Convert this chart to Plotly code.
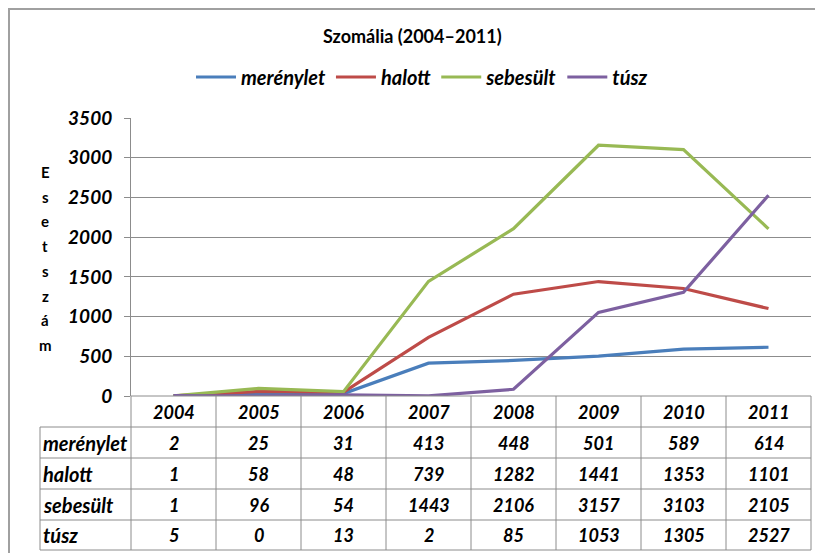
import plotly.graph_objects as go

years = ["2004", "2005", "2006", "2007", "2008", "2009", "2010", "2011"]
series_names = ["merénylet", "halott", "sebesült", "túsz"]
merenylet = [2, 25, 31, 413, 448, 501, 589, 614]
halott = [1, 58, 48, 739, 1282, 1441, 1353, 1101]
sebesult = [1, 96, 54, 1443, 2106, 3157, 3103, 2105]
tusz = [5, 0, 13, 2, 85, 1053, 1305, 2527]
y_ticks = [0, 500, 1000, 1500, 2000, 2500, 3000, 3500]
axis_title = "Esetszám"

series_values = [merenylet, halott, sebesult, tusz]
colors = ["#4A7EBB", "#BE4B48", "#98B954", "#7D60A0"]

OFF = 8  # page body margin
W, H = 823 - OFF, 553 - OFF
# reference (page) pixel positions
PL, PR, PT, PB = 131, 811, 118, 396
L, T = PL - OFF, PT - OFF
R = W - (PR - OFF)
B = H - (PB - OFF)
plot_w = PR - PL
plot_h = PB - PT

FONT = "Lato"
GRID = "#8C8C8C"

fig = go.Figure()
xs = list(range(len(years)))
for name, vals, c in zip(series_names, series_values, colors):
    fig.add_trace(go.Scatter(x=xs, y=vals, mode="lines", name="<b><i>%s</i></b>" % name,
                             line=dict(color=c, width=3.2)))

def py(px):
    return (PB - px) / plot_h

def pxx(px):
    return (px - PL) / plot_w

shapes = []
annotations = []
n = len(years)
row_tops = [396, 427, 458, 489, 520, 550]
line = dict(color=GRID, width=1)
shapes.append(dict(type="line", xref="paper", yref="paper", x0=0, x1=1,
                   y0=py(396), y1=py(396), line=line))
for yy in row_tops[1:]:
    shapes.append(dict(type="line", xref="paper", yref="paper", x0=pxx(40), x1=1,
                       y0=py(yy), y1=py(yy), line=line))
for i in range(n + 1):
    shapes.append(dict(type="line", xref="x domain", yref="paper", x0=i / n, x1=i / n,
                       y0=py(396), y1=py(550), line=line))
shapes.append(dict(type="line", xref="paper", yref="paper", x0=pxx(40), x1=pxx(40),
                   y0=py(427), y1=py(550), line=line))
shapes.append(dict(type="rect", xref="paper", yref="paper", x0=pxx(9), x1=pxx(840),
                   y0=py(570), y1=py(9), line=dict(color="#A0A0A0", width=2)))

num_font = dict(family=FONT, size=18, color="black")
lab_font = dict(family=FONT, size=20, color="black")
for i, yr in enumerate(years):
    annotations.append(dict(x=i, xref="x", y=py(411.5), yref="paper", text="<b><i>%s</i></b>" % yr,
                            showarrow=False, font=num_font, xanchor="center", yanchor="middle"))
for r, (name, vals) in enumerate(zip(series_names, series_values)):
    yc = py((row_tops[r + 1] + row_tops[r + 2]) / 2)
    annotations.append(dict(x=pxx(41), xref="paper", y=yc, yref="paper", text="<b><i>%s</i></b>" % name,
                            showarrow=False, font=lab_font, xanchor="left", yanchor="middle"))
    for i, v in enumerate(vals):
        annotations.append(dict(x=i, xref="x", y=yc, yref="paper", text="<b><i>%d</i></b>" % v,
                                showarrow=False, font=num_font, xanchor="center", yanchor="middle"))
for k, ch in enumerate(axis_title):
    annotations.append(dict(x=pxx(45), xref="paper", y=py(172 + k * 24.7), yref="paper",
                            text="<b>%s</b>" % ch, showarrow=False,
                            font=dict(family=FONT, size=15, color="black"),
                            xanchor="center", yanchor="middle"))
annotations.append(dict(x=pxx(412), xref="paper", y=py(36), yref="paper",
                        text="<b>Szomália (2004–2011)</b>", showarrow=False,
                        font=dict(family=FONT, size=18, color="black"),
                        xanchor="center", yanchor="middle"))

fig.update_layout(
    width=W, height=H,
    margin=dict(l=L, r=R, t=T, b=B, autoexpand=False),
    paper_bgcolor="white", plot_bgcolor="white",
    legend=dict(orientation="h", x=pxx(422), xanchor="center", y=py(77), yanchor="middle",
                font=dict(family=FONT, size=20, color="black"), itemwidth=40,
                bgcolor="rgba(0,0,0,0)"),
    showlegend=True,
    xaxis=dict(range=[-0.5, n - 0.5], showticklabels=False, showgrid=False,
               zeroline=False, showline=False, ticks="", fixedrange=True),
    yaxis=dict(range=[0, 3500], tickvals=y_ticks, ticktext=["<b><i>%d</i></b>" % v for v in y_ticks],
               tickfont=dict(family=FONT, size=19, color="black"),
               showgrid=True, gridcolor=GRID, gridwidth=1, zeroline=False,
               showline=True, linecolor=GRID, linewidth=1, ticks="outside", ticklen=6,
               tickcolor=GRID, ticklabelstandoff=8),
    shapes=shapes, annotations=annotations,
)

fig.write_html("out.html")
